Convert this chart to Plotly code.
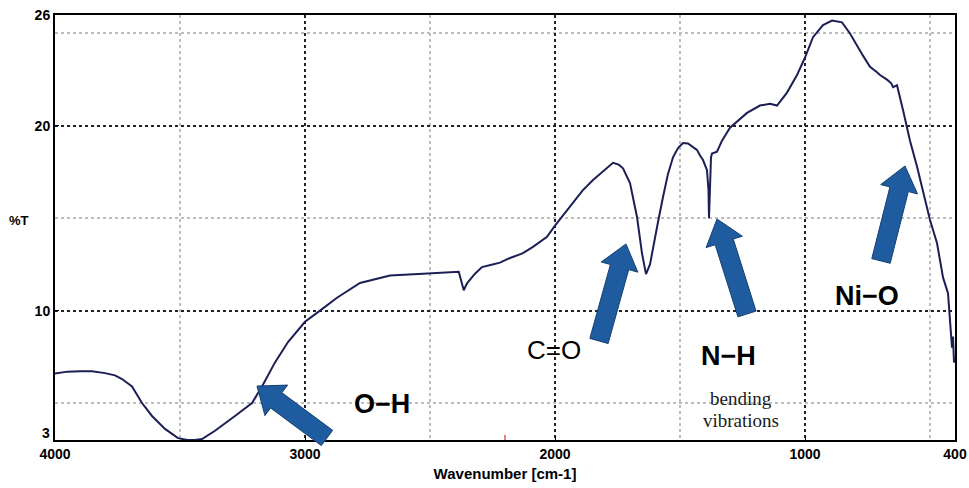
import plotly.graph_objects as go

# ---------------- data ----------------
wavenumber = [4000, 3950, 3900, 3852, 3800, 3760, 3732, 3692, 3652, 3612, 3560, 3508, 3470, 3440,
              3412, 3360, 3280, 3212, 3172, 3120, 3068, 3000, 2940, 2872, 2780, 2660, 2528, 2408,
              2385, 2375, 2365, 2355, 2348, 2320, 2292, 2250, 2220, 2180, 2130, 2088, 2050, 2032,
              2000, 1960, 1928, 1890, 1848, 1800, 1768, 1745, 1728, 1700, 1672, 1652, 1636, 1620,
              1608, 1588, 1568, 1548, 1528, 1508, 1488, 1468, 1448, 1432, 1420, 1408, 1392, 1386,
              1384, 1380, 1376, 1372, 1352, 1332, 1300, 1232, 1180, 1140, 1112, 1072, 1032, 1000,
              968, 928, 892, 852, 820, 768, 740, 712, 700, 672, 655, 648, 632, 608, 580, 552, 528,
              500, 472, 448, 428, 420, 412, 408, 404, 400]
transmittance = [6.6, 6.7, 6.72, 6.72, 6.62, 6.5, 6.3, 5.9, 5.0, 4.3, 3.6, 3.1, 3.0, 3.0,
                 3.05, 3.5, 4.3, 5.0, 5.9, 7.2, 8.3, 9.4, 10.0, 10.7, 11.5, 11.9, 12.0, 12.05,
                 12.1, 11.6, 11.1, 11.4, 11.55, 12.0, 12.36, 12.5, 12.6, 12.85, 13.1, 13.45, 13.8, 14.0,
                 14.6, 15.3, 15.9, 16.5, 17.07, 17.6, 18.0, 17.9, 17.7, 16.9, 15.07, 13.1, 11.98, 12.5,
                 13.45, 14.8, 16.15, 17.4, 18.3, 18.8, 19.07, 19.05, 18.85, 18.7, 18.4, 18.15, 17.6, 16.5,
                 15.0, 16.5, 18.3, 18.5, 18.6, 19.2, 19.9, 20.7, 21.1, 21.2, 21.1, 21.8, 22.75, 23.7,
                 24.8, 25.45, 25.7, 25.6, 25.0, 23.8, 23.2, 22.9, 22.75, 22.5, 22.3, 22.1, 22.2, 20.86, 19.2, 17.8, 16.5,
                 14.9, 13.66, 11.8, 10.95, 9.5, 8.0, 8.6, 7.2, 7.4]

x_ticks = [4000, 3000, 2000, 1000, 400]
x_minor = [3500, 2500, 1500, 500]
y_ticks = [10, 20, 26]
y_bottom_label = 3
y_minor = [5, 15, 25]
x_range = [4000, 400]
y_range = [3, 26]

# band labels: (text, wavenumber, %T, size, bold)
labels = [("O\u2212H", 2692, 4.95, 27, True),
          ("C=O", 2004, 7.87, 26, False),
          ("N\u2212H", 1308, 7.55, 27, True),
          ("Ni\u2212O", 752, 10.8, 27, True)]
sub_labels = [("bending", 1256, 5.22), ("vibrations", 1256, 4.08)]

# arrows: (tip wavenumber, tip %T, tail wavenumber, tail %T)
arrows = [(3192, 5.92, 2912, 3.11),
          (1716, 13.61, 1824, 8.36),
          (1352, 14.96, 1232, 9.82),
          (600, 17.83, 696, 12.69)]

# ---------------- figure ----------------
W, H = 969, 488
ML, MR, MT, MB = 55, 14, 15, 48
PW, PH = W - ML - MR, H - MT - MB

fig = go.Figure()
fig.add_trace(go.Scatter(x=wavenumber, y=transmittance, mode="lines",
                         line=dict(color="#1c1f55", width=2), showlegend=False,
                         hoverinfo="skip"))


def to_px(wn, t):
    px = (x_range[0] - wn) / (x_range[0] - x_range[1]) * PW
    py = (t - y_range[0]) / (y_range[1] - y_range[0]) * PH
    return px, py  # relative to plot area, y upward


def arrow_path(tip, tail, sw=19, hw=38, hl=24):
    tx, ty = to_px(*tip)
    bx, by = to_px(*tail)
    dx, dy = tx - bx, ty - by
    L = (dx * dx + dy * dy) ** 0.5
    ux, uy = dx / L, dy / L
    nx, ny = -uy, ux
    hx, hy = tx - ux * hl, ty - uy * hl
    pts = [(bx + nx * sw / 2, by + ny * sw / 2),
           (hx + nx * sw / 2, hy + ny * sw / 2),
           (hx + nx * hw / 2, hy + ny * hw / 2),
           (tx, ty),
           (hx - nx * hw / 2, hy - ny * hw / 2),
           (hx - nx * sw / 2, hy - ny * sw / 2),
           (bx - nx * sw / 2, by - ny * sw / 2)]
    s = "M " + " L ".join(f"{x / PW:.5f},{y / PH:.5f}" for x, y in pts) + " Z"
    return s


shapes = []
for a in arrows:
    shapes.append(dict(type="path", xref="paper", yref="paper",
                       path=arrow_path((a[0], a[1]), (a[2], a[3])),
                       fillcolor="#1f5c9f", line=dict(color="#163f70", width=1),
                       layer="above"))
# small red tick mark at the bottom axis
shapes.append(dict(type="line", xref="x", yref="paper", x0=2200, x1=2200, y0=0, y1=0.012,
                   line=dict(color="#cc0000", width=1)))

annotations = []
for text, xw, yv, size, bold in labels:
    annotations.append(dict(x=xw, y=yv, xref="x", yref="y", showarrow=False,
                            text=f"<b>{text}</b>" if bold else text,
                            font=dict(family="Liberation Sans, Arial", size=size, color="black")))
for text, xw, yv in sub_labels:
    annotations.append(dict(x=xw, y=yv, xref="x", yref="y", showarrow=False, text=text,
                            font=dict(family="Liberation Serif, Times New Roman", size=19,
                                      color="#1a1a1a")))
annotations.append(dict(x=-0.04, y=(14.9 - 3) / 23, xref="paper", yref="paper", showarrow=False,
                        text="<b>%T</b>", xanchor="center",
                        font=dict(family="Liberation Sans, Arial", size=13, color="black")))
# bottom y tick label sits just above the axis corner
annotations.append(dict(x=0, y=0, xref="paper", yref="paper", showarrow=False,
                        text=f"<b>{y_bottom_label}</b>", xanchor="right", yanchor="bottom",
                        xshift=-3, yshift=-3,
                        font=dict(family="Liberation Sans, Arial", size=14, color="black")))

axis_font = dict(family="Liberation Sans, Arial", size=14, color="black")
fig.update_layout(
    width=W, height=H,
    margin=dict(l=ML, r=MR, t=MT, b=MB),
    paper_bgcolor="white", plot_bgcolor="white",
    shapes=shapes, annotations=annotations,
    xaxis=dict(range=x_range, tickmode="array", tickvals=x_ticks, automargin=False,
               ticktext=[f"<b>{v}</b>" for v in x_ticks], tickfont=axis_font,
               showgrid=True, gridcolor="#222222", griddash="dot", gridwidth=2,
               showline=True, linecolor="black", linewidth=2, mirror=True,
               ticks="inside", ticklen=4, tickcolor="black", zeroline=False,
               minor=dict(tickmode="array", tickvals=x_minor, showgrid=True,
                          gridcolor="#bdbdbd", griddash="dot", gridwidth=2),
               title=dict(text="<b>Wavenumber [cm-1]</b>", standoff=8,
                          font=dict(family="Liberation Sans, Arial", size=15, color="black"))),
    yaxis=dict(range=y_range, tickmode="array", tickvals=y_ticks, automargin=False,
               ticktext=[f"<b>{v}</b>" for v in y_ticks], tickfont=axis_font,
               showgrid=True, gridcolor="#222222", griddash="dot", gridwidth=2,
               showline=True, linecolor="black", linewidth=2, mirror=True,
               ticks="inside", ticklen=4, tickcolor="black", zeroline=False,
               minor=dict(tickmode="array", tickvals=y_minor, showgrid=True,
                          gridcolor="#bdbdbd", griddash="dot", gridwidth=2)),
)

fig.write_html("out.html")
